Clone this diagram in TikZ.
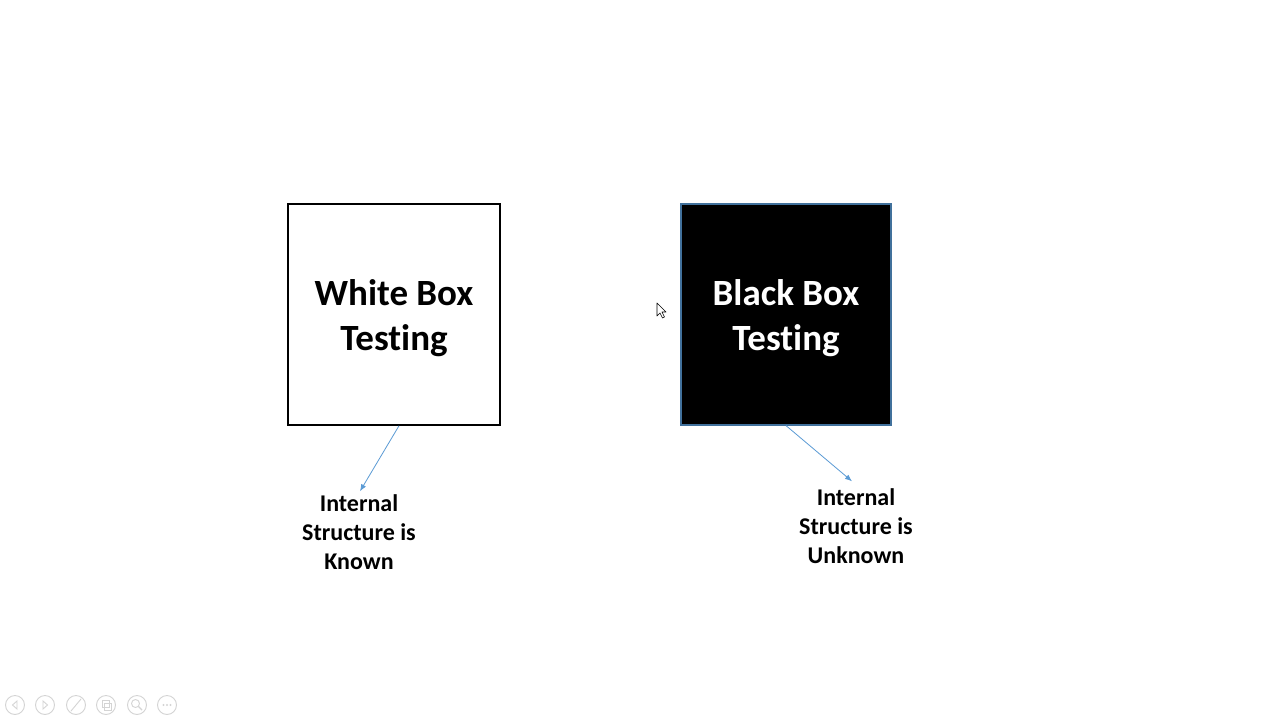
\documentclass[tikz,border=0pt]{standalone}
\usepackage{fontspec}
\setmainfont[Ligatures=NoCommon]{Carlito}
\usetikzlibrary{arrows.meta}
\definecolor{conncol}{RGB}{91,155,213}
\definecolor{bbborder}{RGB}{65,113,156}
\definecolor{ctrlgray}{RGB}{212,212,212}
\tikzset{
  bigbox/.style={rectangle, minimum width=212pt, minimum height=221pt, inner sep=0pt},
  bigtext/.style={align=center, inner sep=0pt, font=\bfseries\fontsize{37}{45}\selectfont},
  lbl/.style={align=center, inner sep=3pt, font=\bfseries\fontsize{24}{29}\selectfont},
  conn/.style={draw=conncol, line width=0.8pt, -{Latex[length=7pt,width=5.5pt]}},
  ctrl/.style={draw=ctrlgray, line width=0.9pt},
}
\begin{document}
\begin{tikzpicture}[x=1pt,y=-1pt]
\useasboundingbox[fill=white] (0,0) rectangle (1280,720);
% boxes
\node[bigbox, draw=black, line width=1.5pt, fill=white] (wb) at (394,314.5) {};
\node[bigtext] (wbt) at ([yshift=-4pt]wb.center) {White Box\\Testing};
\node[bigbox, minimum width=210pt, draw=bbborder, line width=1.2pt, fill=black] (bb) at (786,314.5) {};
\node[bigtext, text=white] (bbt) at ([yshift=-4pt]bb.center) {Black Box\\Testing};
% labels
\node[lbl] (kn) at (359,532) {Internal\\Structure is\\Known};
\node[lbl] (ukn) at (856,526) {Internal\\Structure is\\Unknown};
% connectors
\draw[conn] ([xshift=5pt]wb.south) -- ([xshift=1pt]kn.north);
\draw[conn] (bb.south) -- ([xshift=-4pt,yshift=4pt]ukn.north);
% mouse cursor
\draw[fill=white, line width=0.6pt, line join=round]
  (657,303) -- (657,316) -- (660,313) -- (662.5,318) -- (664.5,317) -- (662,312) -- (666,312) -- cycle;
% slideshow controls
\foreach \cx/\nm in {15/c1,45/c2,76/c3,106/c4,137/c5,167/c6}{
  \draw[ctrl] (\cx,705) circle (9.5);
}
\draw[ctrl] (17,701) -- (12.5,705) -- (17,709) -- cycle;
\draw[ctrl] (43,701) -- (47.5,705) -- (43,709) -- cycle;
\draw[ctrl, line cap=round] (71,711) -- (81,699);
\draw[ctrl] (102,700) rectangle (109,707);
\draw[ctrl] (104,703) rectangle (111,710);
\draw[ctrl] (135.5,703.5) circle (4);
\draw[ctrl, line width=1.4pt] (138.5,706.5) -- (142,710);
\foreach \dx in {-3.5,0,3.5}{\fill[ctrlgray] (167+\dx,705) circle (1.1);}
\end{tikzpicture}
\end{document}
